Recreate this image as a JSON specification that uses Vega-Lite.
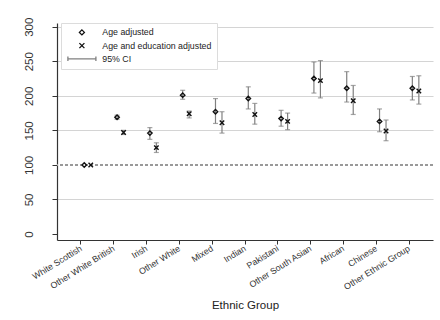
{
  "$schema": "https://vega.github.io/schema/vega-lite/v6.json",
  "width": 376,
  "height": 217,
  "autosize": "none",
  "padding": {"left": 57, "top": 23, "right": 7, "bottom": 80},
  "background": "white",
  "config": {
    "font": "Liberation Sans",
    "view": {"stroke": null},
    "axis": {"domainColor": "#333", "tickColor": "#333", "labelColor": "#222", "titleColor": "#222", "titleFontWeight": "normal"},
    "axisY": {
      "title": null,
      "tickSize": 5,
      "labelAngle": -90,
      "labelAlign": "center",
      "labelBaseline": "alphabetic",
      "labelPadding": 20,
      "labelFontSize": 11.5,
      "labelColor": "#333",
      "labelOverlap": false,
      "grid": true,
      "gridWidth": 1.2,
      "domainWidth": 1.2
    }
  },
  "data": {
    "values": [
      {"group": "White Scottish", "series": "Age adjusted", "est": 100, "lo": null, "hi": null},
      {"group": "White Scottish", "series": "Age and education adjusted", "est": 100, "lo": null, "hi": null},
      {"group": "Other White British", "series": "Age adjusted", "est": 169, "lo": 166, "hi": 172},
      {"group": "Other White British", "series": "Age and education adjusted", "est": 147, "lo": 144, "hi": 150},
      {"group": "Irish", "series": "Age adjusted", "est": 146, "lo": 137, "hi": 154},
      {"group": "Irish", "series": "Age and education adjusted", "est": 125, "lo": 118, "hi": 132},
      {"group": "Other White", "series": "Age adjusted", "est": 201, "lo": 195, "hi": 208},
      {"group": "Other White", "series": "Age and education adjusted", "est": 174, "lo": 168, "hi": 178},
      {"group": "Mixed", "series": "Age adjusted", "est": 177, "lo": 160, "hi": 196},
      {"group": "Mixed", "series": "Age and education adjusted", "est": 161, "lo": 146, "hi": 177},
      {"group": "Indian", "series": "Age adjusted", "est": 196, "lo": 181, "hi": 213},
      {"group": "Indian", "series": "Age and education adjusted", "est": 173, "lo": 159, "hi": 189},
      {"group": "Pakistani", "series": "Age adjusted", "est": 167, "lo": 156, "hi": 179},
      {"group": "Pakistani", "series": "Age and education adjusted", "est": 163, "lo": 151, "hi": 175},
      {"group": "Other South Asian", "series": "Age adjusted", "est": 225, "lo": 204, "hi": 249},
      {"group": "Other South Asian", "series": "Age and education adjusted", "est": 222, "lo": 197, "hi": 251},
      {"group": "African", "series": "Age adjusted", "est": 211, "lo": 191, "hi": 235},
      {"group": "African", "series": "Age and education adjusted", "est": 193, "lo": 173, "hi": 215},
      {"group": "Chinese", "series": "Age adjusted", "est": 163, "lo": 148, "hi": 181},
      {"group": "Chinese", "series": "Age and education adjusted", "est": 149, "lo": 135, "hi": 165},
      {"group": "Other Ethnic Group", "series": "Age adjusted", "est": 211, "lo": 194, "hi": 228},
      {"group": "Other Ethnic Group", "series": "Age and education adjusted", "est": 207, "lo": 188, "hi": 229}
    ]
  },
  "layer": [
    {
      "mark": {"type": "rule", "color": "#9a9a9a", "strokeDash": [3, 2], "strokeWidth": 1},
      "encoding": {
        "y": {
          "datum": 100,
          "type": "quantitative",
          "scale": {"domain": [-8.7, 305.4], "nice": false, "zero": false},
          "axis": {
            "values": [0, 50, 100, 150, 200, 250, 300],
            "gridColor": {"condition": {"test": "datum.value == 0 || datum.value == 100", "value": "transparent"}, "value": "#d4d4d4"}
          }
        }
      }
    },
    {
      "transform": [{"filter": "datum.lo != null"}],
      "mark": {"type": "rule", "color": "#808080", "strokeWidth": 1.2},
      "encoding": {
        "x": {"field": "group", "type": "nominal"},
        "xOffset": {"field": "series", "type": "nominal"},
        "y": {
          "field": "lo",
          "type": "quantitative",
          "axis": {
            "values": [0, 50, 100, 150, 200, 250, 300],
            "gridColor": {"condition": {"test": "datum.value == 0 || datum.value == 100", "value": "transparent"}, "value": "#d4d4d4"}
          }
        },
        "y2": {"field": "hi"}
      }
    },
    {
      "transform": [{"filter": "datum.lo != null"}],
      "mark": {"type": "tick", "color": "#808080", "size": 5, "thickness": 1.2},
      "encoding": {
        "x": {"field": "group", "type": "nominal"},
        "xOffset": {"field": "series", "type": "nominal"},
        "y": {
          "field": "lo",
          "type": "quantitative",
          "axis": {
            "values": [0, 50, 100, 150, 200, 250, 300],
            "gridColor": {"condition": {"test": "datum.value == 0 || datum.value == 100", "value": "transparent"}, "value": "#d4d4d4"}
          }
        }
      }
    },
    {
      "transform": [{"filter": "datum.lo != null"}],
      "mark": {"type": "tick", "color": "#808080", "size": 5, "thickness": 1.2},
      "encoding": {
        "x": {"field": "group", "type": "nominal"},
        "xOffset": {"field": "series", "type": "nominal"},
        "y": {
          "field": "hi",
          "type": "quantitative",
          "axis": {
            "values": [0, 50, 100, 150, 200, 250, 300],
            "gridColor": {"condition": {"test": "datum.value == 0 || datum.value == 100", "value": "transparent"}, "value": "#d4d4d4"}
          }
        }
      }
    },
    {
      "mark": {"type": "point", "filled": false, "size": 20, "strokeWidth": 1.4, "opacity": 1},
      "encoding": {
        "x": {
          "field": "group",
          "type": "nominal",
          "scale": {
            "type": "band",
            "domain": ["White Scottish", "Other White British", "Irish", "Other White", "Mixed", "Indian", "Pakistani", "Other South Asian", "African", "Chinese", "Other Ethnic Group"],
            "paddingInner": 0,
            "paddingOuter": 0.23
          },
          "axis": {
            "title": "Ethnic Group",
            "titleFontSize": 11.5,
            "titlePadding": 8,
            "labelAngle": -32,
            "labelAlign": "right",
            "labelBaseline": "middle",
            "labelFontSize": 8.8,
            "labelColor": "#333",
            "labelPadding": 3,
            "tickSize": 4,
            "grid": false,
            "domainWidth": 1.2
          }
        },
        "xOffset": {
          "field": "series",
          "type": "nominal",
          "scale": {"type": "point", "domain": ["Age adjusted", "Age and education adjusted"], "range": [19.7, 26.2], "padding": 0}
        },
        "y": {
          "field": "est",
          "type": "quantitative",
          "axis": {
            "values": [0, 50, 100, 150, 200, 250, 300],
            "gridColor": {"condition": {"test": "datum.value == 0 || datum.value == 100", "value": "transparent"}, "value": "#d4d4d4"}
          }
        },
        "shape": {
          "field": "series",
          "type": "nominal",
          "scale": {
            "domain": ["Age adjusted", "Age and education adjusted", "95% CI"],
            "range": ["diamond", "M-1,-1L1,1M-1,1L1,-1", "M-5.6,0H5.6M-5.6,-0.9V0.9M5.6,-0.9V0.9"]
          },
          "legend": {
            "title": null,
            "orient": "none",
            "legendX": 4,
            "legendY": 0,
            "fillColor": "white",
            "strokeColor": "#dcdcdc",
            "padding": 5,
            "symbolSize": 25,
            "symbolStrokeWidth": 1.3,
            "symbolOffset": 11.5,
            "labelOffset": 16,
            "labelFontSize": 8.8,
            "labelColor": "#222",
            "rowPadding": 2.2
          }
        },
        "color": {
          "field": "series",
          "type": "nominal",
          "scale": {
            "domain": ["Age adjusted", "Age and education adjusted", "95% CI"],
            "range": ["#111111", "#111111", "#808080"]
          },
          "legend": {
            "title": null,
            "orient": "none",
            "legendX": 4,
            "legendY": 0
          }
        }
      }
    }
  ]
}
